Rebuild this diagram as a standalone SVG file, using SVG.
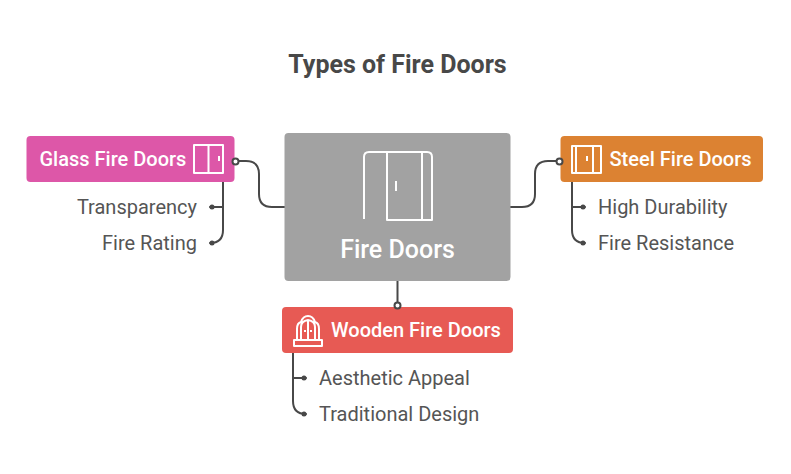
<svg xmlns="http://www.w3.org/2000/svg" width="791" height="474" viewBox="0 0 791 474">
<style>
text{font-family:Roboto,"Liberation Sans",sans-serif}
.title{font-size:25px;font-weight:700;fill:#484848}
.n{font-size:20px;font-weight:500;fill:#fff}
.l{font-size:20px;fill:#555}
.w{fill:none;stroke:#484848;stroke-width:2;stroke-linecap:round}
.i{fill:none;stroke:#fff;stroke-width:2;stroke-linejoin:round}
.d{fill:#484848}
.o{fill:#fff;stroke:#484848;stroke-width:2}
</style>
<rect width="791" height="474" fill="#fff"/>
<text class="title" x="397.500" y="72.500" text-anchor="middle">Types of Fire Doors</text>
<g id="connectors">
<path class="w" d="M236 161H246Q259 161 259 174V194Q259 207 272 207H285"/>
<path class="w" d="M561 161H548Q535 161 535 174V194Q535 207 522 207H510"/>
<path class="w" d="M397.500 280V306"/>
<path class="w" d="M223 182V230Q223 243 210 243H210M223 207H210"/>
<path class="w" d="M572 182V230Q572 243 585 243M572 207H585"/>
<path class="w" d="M293 353V401Q293 414 306 414M293 378H306"/>
<circle class="d" cx="212" cy="207" r="2.500"/><circle class="d" cx="212" cy="243" r="2.500"/>
<circle class="d" cx="583" cy="207" r="2.500"/><circle class="d" cx="583" cy="243" r="2.500"/>
<circle class="d" cx="304" cy="378" r="2.500"/><circle class="d" cx="304" cy="414" r="2.500"/>
</g>
<g id="center">
<rect x="284.500" y="133" width="226" height="148" rx="4" fill="#a2a2a2"/>
<path class="i" d="M364 219V157Q364 152 369 152H427Q432 152 432 157V220H387V152M422 152V220M396 181V191"/>
<text x="397.500" y="258" text-anchor="middle" font-size="25" font-weight="500" fill="#fff">Fire Doors</text>
</g>
<g id="glass">
<rect x="26.500" y="136" width="208" height="46" rx="4" fill="#dd57a8"/>
<text class="n" x="39.500" y="166">Glass Fire Doors</text>
<path class="i" d="M194 145H223V173H194ZM208.500 145V173M219 156V161"/>
<circle class="o" cx="235.500" cy="161.500" r="3"/>
</g>
<g id="steel">
<rect x="560.500" y="136" width="202.500" height="46" rx="4" fill="#dc8232"/>
<text class="n" x="609.500" y="166">Steel Fire Doors</text>
<path class="i" d="M572 173V146H601V173ZM576 146V173M593 146V173M587 156V161"/>
<circle class="o" cx="559.500" cy="161.500" r="3"/>
</g>
<g id="wooden">
<rect x="282" y="307" width="231" height="46" rx="4" fill="#e75a54"/>
<text class="n" x="331" y="337">Wooden Fire Doors</text>
<path class="i" d="M294 340H322V346H294ZM297 340V329Q297 323 301 322Q303 316 308 316Q313 316 315 322Q319 323 319 329V340M301 340V327Q301 321 308 320Q315 321 315 327V340M308 320V340M305 330V332M311 330V332" stroke-width="1.800"/>
<circle class="o" cx="397.500" cy="305.500" r="3"/>
</g>
<g id="labels">
<text class="l" x="197" y="214" text-anchor="end">Transparency</text>
<text class="l" x="197" y="250" text-anchor="end">Fire Rating</text>
<text class="l" x="598" y="214">High Durability</text>
<text class="l" x="598" y="250">Fire Resistance</text>
<text class="l" x="319" y="385">Aesthetic Appeal</text>
<text class="l" x="319" y="421">Traditional Design</text>
</g>
</svg>
